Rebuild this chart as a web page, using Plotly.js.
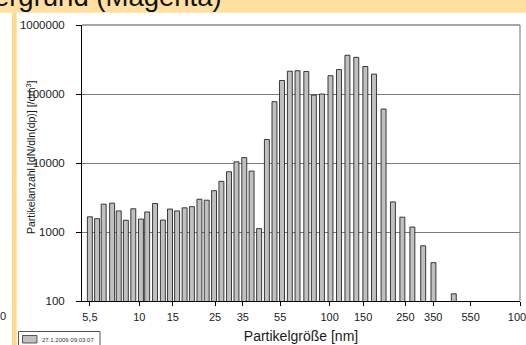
<!DOCTYPE html>
<html>
<head>
<meta charset="utf-8">
<script src="https://cdn.plot.ly/plotly-3.0.1.min.js"></script>
<style>html,body{margin:0;padding:0;background:#fff;}#chart{width:526px;height:345px;}</style>
</head>
<body>
<div id="chart"></div>
<script>
// Particle diameter (nm), bar centres
const diameters = [5.5, 6.0, 6.5, 7.2, 7.8, 8.5, 9.3, 10.2, 11.0, 12.1, 13.3, 14.5, 15.8, 17.3, 18.9,
  20.7, 22.6, 24.7, 27.0, 29.6, 32.4, 35.6, 38.9, 42.6, 46.8, 51.3, 56.2, 61.8, 67.8, 75.4,
  82.6, 91.1, 101, 112, 124, 138, 154, 171, 192, 215, 241, 272, 310, 351, 449];
// Particle count dN/dln(dp) [/cm3]
const counts = [1660, 1560, 2530, 2620, 2020, 1480, 2170, 1540, 1950, 2590, 1490, 2150, 2020, 2240, 2330,
  2980, 2890, 3970, 5420, 7470, 10400, 12000, 7640, 1120, 21900, 77400, 157000, 214000, 217000, 212000,
  96400, 99800, 184000, 226000, 364000, 340000, 250000, 194000, 60500, 2730, 1640, 1180, 632, 359, 127];
const seriesName = "27.1.2009 09:03:07";
const xTickVals = [5.5, 10, 15, 25, 35, 55, 100, 150, 250, 350, 550, 1000];
const xTickText = ["5,5", "10", "15", "25", "35", "55", "100", "150", "250", "350", "550", "1000"];
const yTickVals = [100, 1000, 10000, 100000, 1000000];
const yTickText = ["100", "1000", "10000", "100000", "1000000"];

const W = 526, H = 345, ML = 82, MR = 6, MT = 25, MB = 44;
const PW = W - ML - MR, PH = H - MT - MB;
const px = x => (x - ML) / PW;
const py = y => (H - MB - y) / PH;
const font = "Liberation Sans, Arial, sans-serif";

// x axis drawn on log10 of the diameter so that all bars keep the same pixel width
const trace = {
  type: "bar",
  x: diameters.map(Math.log10),
  y: counts,
  width: 0.026,
  name: seriesName,
  marker: {color: "#c0c0c0", line: {color: "#262626", width: 0.9}},
  showlegend: false
};

const layout = {
  width: W, height: H,
  margin: {l: ML, r: MR, t: MT, b: MB, pad: 0},
  paper_bgcolor: "#ffffff",
  plot_bgcolor: "#ffffff",
  font: {family: font, color: "#1a1a1a", size: 11},
  showlegend: false,
  xaxis: {
    type: "linear",
    range: [Math.log10(5), 3],
    tickvals: xTickVals.map(Math.log10), ticktext: xTickText,
    ticks: "outside", ticklen: 4, tickcolor: "#000", tickwidth: 1,
    ticklabelstandoff: 2, ticklabeloverflow: "allow",
    showgrid: false, zeroline: false, automargin: false,
    showline: true, linecolor: "#000", linewidth: 1,
    tickfont: {size: 11, family: font, color: "#1a1a1a"},
    title: {text: "Partikelgröße [nm]", font: {size: 14, family: font, color: "#1a1a1a"}, standoff: 8}
  },
  yaxis: {
    type: "log",
    range: [2, 6],
    tickvals: yTickVals, ticktext: yTickText,
    ticks: "outside", ticklen: 5, tickcolor: "#000", tickwidth: 1,
    ticklabelstandoff: 9,
    showgrid: true, gridcolor: "#7a7a7a", gridwidth: 1,
    zeroline: false, automargin: false,
    showline: true, linecolor: "#000", linewidth: 1,
    tickfont: {size: 11.5, family: font, color: "#1a1a1a"}
  },
  shapes: [
    {type: "rect", xref: "paper", yref: "paper", x0: px(-5), x1: px(W + 5), y0: py(12.7), y1: py(-5),
     fillcolor: "#ffe0a0", line: {width: 0}, layer: "below"},
    {type: "rect", xref: "paper", yref: "paper", x0: px(12), x1: px(16.7), y0: py(H + 5), y1: py(12.7),
     fillcolor: "#ffd98c", line: {width: 0}, layer: "below"},
    {type: "line", xref: "paper", yref: "paper", x0: 0, x1: 1, y0: 1, y1: 1,
     line: {color: "#888", width: 1.5}},
    {type: "line", xref: "paper", yref: "paper", x0: 1, x1: 1, y0: 0, y1: 1,
     line: {color: "#888", width: 1.2}},
    // legend box and swatch
    {type: "rect", xref: "paper", yref: "paper", x0: px(18.5), x1: px(100), y0: py(350), y1: py(331.5),
     fillcolor: "#ffffff", line: {color: "#555", width: 1}},
    {type: "rect", xref: "paper", yref: "paper", x0: px(22.5), x1: px(37), y0: py(343), y1: py(335.5),
     fillcolor: "#c0c0c0", line: {color: "#333", width: 0.8}}
  ],
  annotations: [
    {text: "Hintergrund (Magenta)", xref: "paper", yref: "paper", x: px(224), y: py(14), xanchor: "right", yanchor: "bottom",
     showarrow: false, font: {size: 27.5, family: font, color: "#111"}},
    {text: "0", xref: "paper", yref: "paper", x: px(3), y: py(316), xanchor: "center", yanchor: "middle",
     showarrow: false, font: {size: 11, family: font, color: "#1a1a1a"}},
    {text: "Partikelanzahl [dN/dln(dp)] [/cm<sup>3</sup>]", xref: "paper", yref: "paper", x: px(30), y: py(157),
     xanchor: "center", yanchor: "middle", textangle: -90, showarrow: false,
     font: {size: 10.5, family: font, color: "#1a1a1a"}},
    {text: seriesName, xref: "paper", yref: "paper", x: px(40), y: py(339.5), xanchor: "left", yanchor: "middle",
     showarrow: false, font: {size: 6, family: font, color: "#333"}}
  ]
};

Plotly.newPlot("chart", [trace], layout, {displayModeBar: false, staticPlot: true});
</script>
</body>
</html>
